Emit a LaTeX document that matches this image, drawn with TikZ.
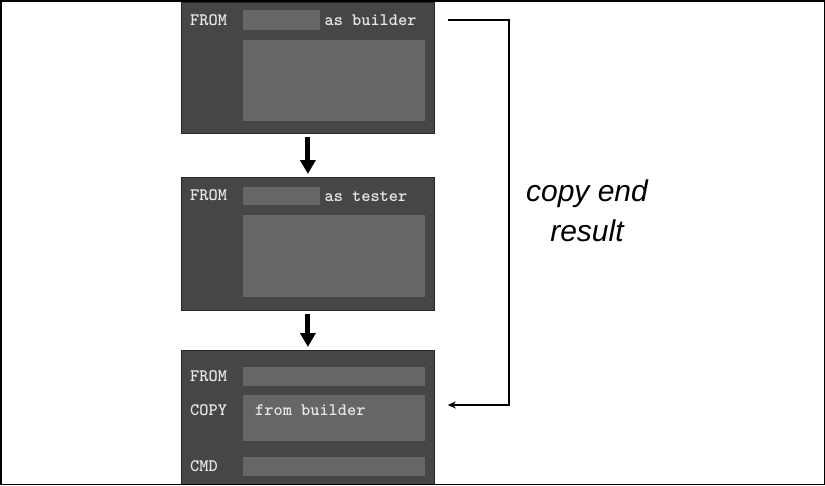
\documentclass[tikz,border=0pt]{standalone}
\usepackage{fontspec}
\setmainfont{Liberation Sans}
\usetikzlibrary{arrows.meta, calc, positioning}
\definecolor{StageGray}{HTML}{464646}
\definecolor{FieldGray}{HTML}{666666}
\definecolor{CodeWhite}{HTML}{E6E6E6}

\begin{document}
\begin{tikzpicture}[x=1pt, y=-1pt, >=Stealth,
  stage/.style={draw=black!85, line width=0.8pt, fill=StageGray,
                anchor=north west, inner sep=0pt, minimum width=253pt},
  field/.style={fill=FieldGray, anchor=north west, inner sep=0pt},
  kw/.style={text=CodeWhite, anchor=west, inner sep=0pt,
             font=\ttfamily\bfseries\fontsize{17.5}{18}\selectfont},
  flow/.style={-{Triangle[width=15pt, length=14pt]}, line width=5pt,
               shorten <=3pt, shorten >=3pt}]

\useasboundingbox (0,0) rectangle (825,485);

% the three stages
\node[stage, minimum height=131pt] (builder) at (181,2) {};
\node[stage, minimum height=133pt] (tester)  at (181,177) {};
\node[stage, minimum height=134pt] (final)   at (181,350) {};

\node[field, minimum width=77pt,  minimum height=20pt] (bname) at (243,10) {};
\node[field, minimum width=182pt, minimum height=81pt] (bbody) at (243,40) {};
\node[field, minimum width=77pt,  minimum height=18pt] (tname) at (243,187) {};
\node[field, minimum width=182pt, minimum height=82pt] (tbody) at (243,215) {};
\node[field, minimum width=182pt, minimum height=19pt] (ffrom) at (243,367) {};
\node[field, minimum width=182pt, minimum height=46pt] (fcopy) at (243,395) {};
\node[field, minimum width=182pt, minimum height=19pt] (fcmd)  at (243,457) {};

\foreach \idx/\ypos/\lab in {1/20/FROM, 2/195/FROM, 3/376/FROM, 4/410/COPY, 5/466/CMD}
  \node[kw] (kw\idx) at (190,\ypos) {\lab};

\node[kw, right=4pt of bname] (bas) {as builder};
\node[kw, right=4pt of tname] (tas) {as tester};
\node[kw] (fsrc) at (255,410) {from builder};

\foreach \a/\b in {builder/tester, tester/final}
  \draw[flow] (\a.south) -- (\b.north);

% copy the end result across
\coordinate (out) at ($(builder.east |- bname)+(13,0)$);
\coordinate (in)  at ($(final.east |- kw4)+(13,-5)$);
\draw[->, line width=1.5pt, >={Stealth[length=8pt, width=7pt]}]
  (out) -- ++(61,0) |- (in);

\node[font=\itshape\fontsize{30}{40}\selectfont, align=center] (note)
  at (587,211) {copy end\\result};

\draw[line width=1.5pt] (0.75,0.75) rectangle (824.25,484.25);

\end{tikzpicture}
\end{document}
